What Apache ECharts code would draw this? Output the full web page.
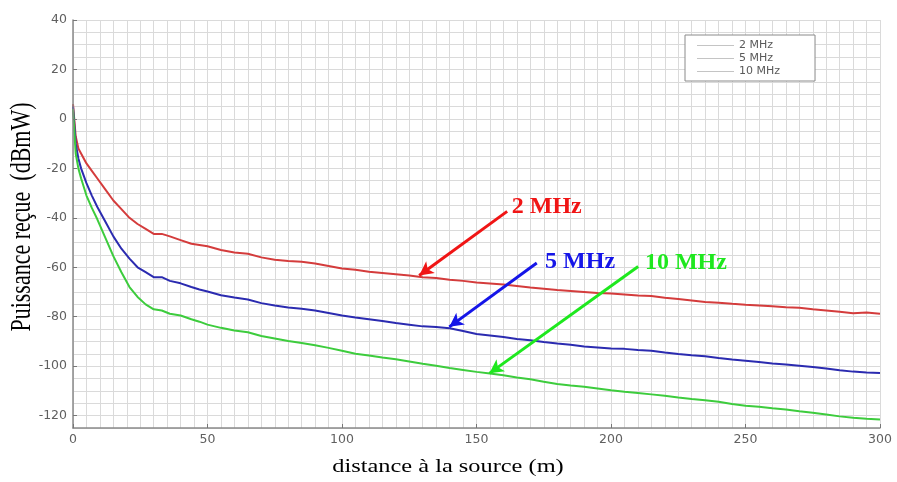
<!DOCTYPE html>
<html>
<head>
<meta charset="utf-8">
<script src="https://cdn.jsdelivr.net/npm/echarts@6/dist/echarts.min.js"></script>
<style>html,body{margin:0;padding:0;background:#fff;}#c{width:897px;height:482px;}</style>
</head>
<body>
<div id="c"></div>
<script>
// distance (m)
const distances = [0,1,2,3,5,7,9,12,15,18,21,24,27,30,33,36,40,44,47,50,
  55,60,65,70,75,80,85,90,95,100,105,110,115,120,125,130,135,140,145,150,
  155,160,165,170,175,180,185,190,195,200,205,210,215,220,225,230,235,240,245,250,
  255,260,265,270,275,280,285,290,295,300];
// received power (dBmW)
const p2MHz = [6,-7,-12,-14,-18,-21,-24,-28.5,-33,-36.5,-40,-42.5,-44.5,-46.5,-46.5,-47.5,-49,-50.5,-51,-51.5,
  -53,-54,-54.5,-56,-57,-57.5,-57.8,-58.5,-59.5,-60.5,-61,-61.8,-62.3,-62.8,-63.3,-64,-64.3,-65,-65.5,-66.2,
  -66.6,-67,-67.6,-68.2,-68.7,-69.2,-69.6,-70,-70.4,-70.6,-71,-71.4,-71.6,-72.3,-72.8,-73.4,-74,-74.3,-74.8,-75.2,
  -75.5,-75.8,-76.2,-76.4,-77,-77.5,-78,-78.6,-78.3,-78.8];
const p5MHz = [5,-10,-16,-20,-26,-31,-35.5,-41.5,-47.5,-52.5,-56.5,-60,-62,-64,-64,-65.5,-66.5,-68,-69,-69.8,
  -71.3,-72.2,-73,-74.5,-75.5,-76.3,-76.8,-77.5,-78.5,-79.5,-80.3,-81,-81.7,-82.5,-83.2,-83.9,-84.2,-84.7,-85.8,-87,
  -87.6,-88.2,-89,-89.5,-90.2,-90.8,-91.3,-92,-92.4,-92.8,-93,-93.5,-93.8,-94.5,-95.1,-95.6,-96,-96.7,-97.3,-97.8,
  -98.3,-98.9,-99.3,-99.8,-100.3,-100.9,-101.6,-102.2,-102.6,-102.8];
const p10MHz = [4,-14,-20,-24,-31,-36,-40.5,-48,-55.5,-62,-68,-72,-75,-77,-77.5,-78.8,-79.5,-81,-82,-83.2,
  -84.5,-85.6,-86.3,-87.8,-88.8,-89.8,-90.6,-91.5,-92.6,-93.8,-95,-95.7,-96.5,-97.2,-98.1,-99,-99.8,-100.7,-101.5,-102.3,
  -103,-103.7,-104.6,-105.3,-106.3,-107.2,-107.8,-108.3,-109,-109.7,-110.3,-110.8,-111.4,-112,-112.7,-113.3,-113.8,-114.4,-115.3,-116,
  -116.4,-117,-117.5,-118.2,-118.8,-119.5,-120.3,-120.9,-121.3,-121.6];
const seriesNames = ['2 MHz','5 MHz','10 MHz'];
const yTicks = [-120,-100,-80,-60,-40,-20,0,20,40];
const xTicks = [0,50,100,150,200,250,300];

// annotation arrows (data coordinates): [start, tip] and label anchor
const arrows = {
  '2 MHz':  {from:[161.4,-37.4], to:[128.7,-63.3], label:[163.1,-35.7]},
  '5 MHz':  {from:[172.4,-58.3], to:[139.9,-84.1], label:[175.5,-57.7]},
  '10 MHz': {from:[210.1,-59.7], to:[154.8,-102.9], label:[212.6,-58.1]}
};

const lineColors = ['#d43c3c','#2b2bb0','#3dcc3d'];
const annColors = ['#f01515','#1515e8','#1ee81e'];
const values = [p2MHz, p5MHz, p10MHz];

function pairs(arr){ return distances.map((d,i)=>[d, arr[i]]); }

const chart = echarts.init(document.getElementById('c'), null, {renderer:'canvas'});
const series = seriesNames.map((name, k) => {
  const a = arrows[name];
  return {
    name, type:'line', xAxisIndex:0, yAxisIndex:0, data: pairs(values[k]), symbol:'none', smooth:false,
    lineStyle:{color: lineColors[k], width:2}, itemStyle:{color: lineColors[k]},
    animation:false, z: 3,
    markLine:{
      silent:true, animation:false, symbol:['none','arrow'], symbolSize:[11,14],
      lineStyle:{color: annColors[k], width:3, type:'solid'},
      label:{show:false},
      data:[[{coord:a.from},{coord:a.to}]]
    },
    markPoint:{
      silent:true, animation:false, symbol:'circle', symbolSize:0,
      data:[{coord:a.label}],
      label:{show:true, position:'right', distance:0, formatter: name,
        color: annColors[k], fontFamily:'"Liberation Serif", "Times New Roman", serif',
        fontWeight:'bold', fontSize:24}
    }
  };
});

const gridLine = {show:true, lineStyle:{color:'#dadada', width:1}};

chart.setOption({
  backgroundColor:'#fff',
  animation:false,
  grid:{left:73, right:17, top:20, bottom:54, containLabel:false},
  legend:{
    orient:'vertical', left:685, top:35,
    backgroundColor:'#fff', borderColor:'#8a8a8a', borderWidth:1, borderRadius:0,
    padding:[5,35,4,12], itemWidth:37, itemHeight:1, itemGap:2,
    icon:'rect',
    itemStyle:{color:'#c4c4c4', borderWidth:0},
    textStyle:{fontFamily:'"DejaVu Sans", sans-serif', fontSize:11, color:'#5a5a5a', lineHeight:11},
    data: seriesNames
  },
  xAxis:[{
    type:'value', min:0, max:300, interval:50,
    axisLine:{show:true, onZero:false, lineStyle:{color:'#8a8a8a', width:1.5}},
    axisTick:{show:true, inside:true, length:4, customValues: xTicks, lineStyle:{color:'#777'}},
    axisLabel:{show:true, customValues: xTicks, margin:5, fontFamily:'"DejaVu Sans", sans-serif', fontSize:12.5, color:'#606060'},
    splitLine:{show:false}, z:5
  },{
    type:'value', min:0, max:300, interval:5, position:'top',
    axisLine:{show:false}, axisTick:{show:false}, axisLabel:{show:false},
    splitLine: gridLine, z:0
  }],
  yAxis:[{
    type:'value', min:-125, max:40, interval:5,
    axisLine:{show:true, onZero:false, lineStyle:{color:'#8a8a8a', width:1.5}},
    axisTick:{show:true, inside:true, length:4, customValues: yTicks, lineStyle:{color:'#777'}},
    axisLabel:{show:true, customValues: yTicks, margin:6, fontFamily:'"DejaVu Sans", sans-serif', fontSize:12.5, color:'#606060'},
    splitLine:{show:false}, z:5
  },{
    type:'value', min:-125, max:40, interval:5, position:'right',
    axisLine:{show:false}, axisTick:{show:false}, axisLabel:{show:false},
    splitLine: gridLine, z:0
  }],
  graphic:[
    {type:'text', x:448, y:467, scaleX:1.25, silent:true,
      style:{text:'distance à la source (m)', font:'19.5px "Liberation Serif"', fill:'#000', align:'center', verticalAlign:'middle'}},
    {type:'text', x:22, y:217, rotation:Math.PI/2, scaleY:1.3, silent:true,
      style:{text:'Puissance reçue  (dBmW)', font:'22px "Liberation Serif"', fill:'#000', align:'center', verticalAlign:'middle'}}
  ],
  series
});
</script>
</body>
</html>
